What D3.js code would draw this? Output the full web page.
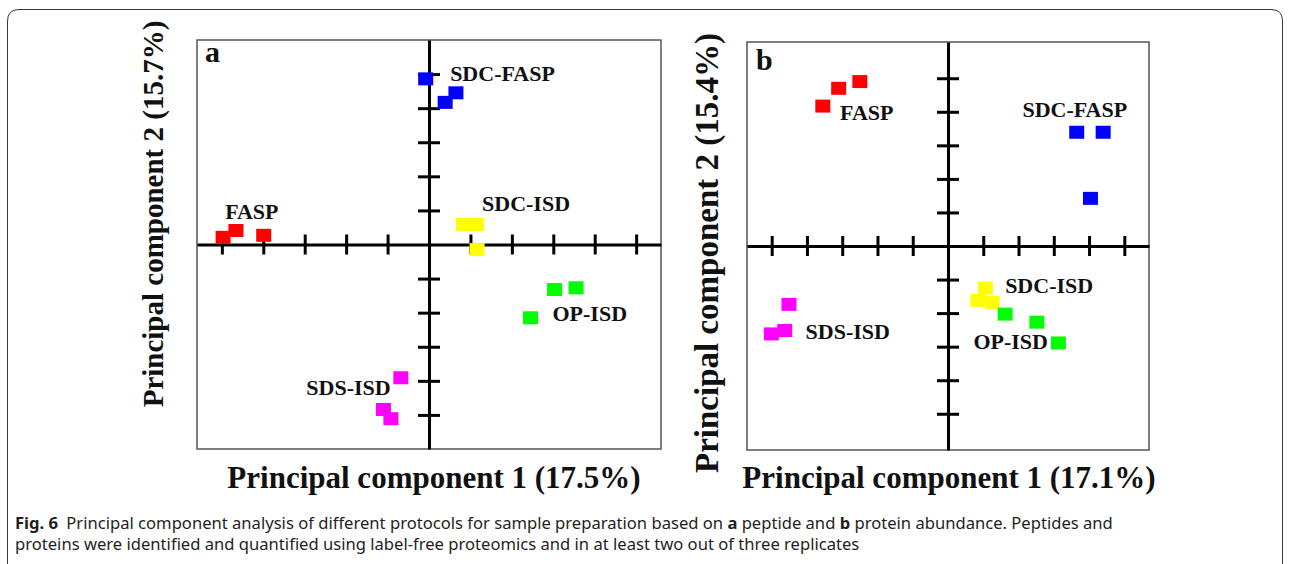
<!DOCTYPE html>
<html>
<head>
<meta charset="utf-8">
<script src="https://cdn.jsdelivr.net/npm/d3@7"></script>
<style>
  body { margin: 0; background: #fff; }
  svg { display: block; }
  .serif { font-family: "Liberation Serif", "Times New Roman", serif; font-weight: bold; fill: #111; }
  .caption { font-family: "Noto Sans", sans-serif; fill: #231f20; }
</style>
</head>
<body>
<svg id="chart" width="1290" height="564"></svg>
<script>
// groups shared by both panels
const groups = ['FASP', 'SDC-FASP', 'SDC-ISD', 'OP-ISD', 'SDS-ISD'];
const groupColors = ['#ff0000', '#0000ff', '#ffff00', '#00ff00', '#ff00ff'];
const axisTicks = [-5, -4, -3, -2, -1, 1, 2, 3, 4, 5];

// panel a: peptide abundance (three replicates per group)
const pc1A = [[-4.97, -4.66, -3.99], [-0.08, 0.39, 0.65], [0.83, 1.15, 1.16], [3.03, 3.55, 2.45], [-0.68, -1.10, -0.92]];
const pc2A = [[0.21, 0.41, 0.27], [4.86, 4.17, 4.45], [0.59, 0.59, -0.15], [-1.32, -1.27, -2.15], [-3.91, -4.84, -5.11]];
// where each group name sits (data units: left x, baseline y)
const labelPosA = [[-4.92, 0.75], [0.51, 4.79], [1.28, 0.98], [2.98, -2.25], [-2.96, -4.42]];

// panel b: protein abundance
const pc1B = [[-3.55, -3.10, -2.50], [3.65, 4.40, 4.04], [1.06, 0.85, 1.25], [1.62, 2.52, 3.13], [-4.51, -5.01, -4.63]];
const pc2B = [[4.17, 4.70, 4.90], [3.39, 3.39, 1.42], [-1.25, -1.62, -1.68], [-2.03, -2.27, -2.89], [-1.74, -2.62, -2.52]];
const labelPosB = [[-3.06, 3.77], [2.11, 3.85], [1.62, -1.41], [0.72, -3.07], [-4.04, -2.77]];

const svg = d3.select('#chart');

// outer figure frame (open at the bottom)
svg.append('path')
  .attr('d', 'M7.5,570 V21 Q7.5,9.5 19,9.5 H1271 Q1282.5,9.5 1282.5,21 V570')
  .attr('fill', 'none')
  .attr('stroke', '#3a3a3a')
  .attr('stroke-width', 1);

function drawPanel(p) {
  const x = d3.scaleLinear().domain(p.xDomain).range([p.left, p.right]);
  const y = d3.scaleLinear().domain(p.yDomain).range([p.bottom, p.top]);
  const g = svg.append('g');

  g.append('rect')
    .attr('x', p.left).attr('y', p.top)
    .attr('width', p.right - p.left).attr('height', p.bottom - p.top)
    .attr('fill', '#fff')
    .attr('stroke', '#555')
    .attr('stroke-width', 1.5);

  const xAxis = g.append('g')
    .attr('transform', `translate(0,${y(0)})`)
    .call(d3.axisBottom(x).tickValues(axisTicks).tickSize(10).tickSizeOuter(0).tickFormat(''));
  xAxis.selectAll('.tick line').attr('y1', -10).attr('y2', 10);

  const yAxis = g.append('g')
    .attr('transform', `translate(${x(0)},0)`)
    .call(d3.axisLeft(y).tickValues(axisTicks).tickSize(11).tickSizeOuter(0).tickFormat(''));
  yAxis.selectAll('.tick line').attr('x1', -11).attr('x2', 11);

  g.selectAll('.domain, .tick line').attr('stroke', '#000').attr('stroke-width', 3);

  const pts = [];
  groups.forEach((name, i) => {
    p.pc1[i].forEach((v, j) => pts.push({ group: i, pc1: v, pc2: p.pc2[i][j] }));
  });

  g.append('g')
    .selectAll('rect')
    .data(pts)
    .enter()
    .append('rect')
    .attr('x', (d) => x(d.pc1) - 7.5)
    .attr('y', (d) => y(d.pc2) - 6.5)
    .attr('width', 15)
    .attr('height', 13)
    .attr('fill', (d) => groupColors[d.group]);

  g.append('g')
    .selectAll('text')
    .data(groups)
    .enter()
    .append('text')
    .attr('class', 'serif')
    .attr('x', (d, i) => x(p.labelPos[i][0]))
    .attr('y', (d, i) => y(p.labelPos[i][1]))
    .attr('font-size', 22)
    .text((d) => d);

  g.append('text')
    .attr('class', 'serif')
    .attr('x', p.left + p.letterDx)
    .attr('y', p.top + p.letterDy)
    .attr('font-size', 30)
    .text(p.letter);

  g.append('text')
    .attr('class', 'serif')
    .attr('text-anchor', 'middle')
    .attr('x', (p.left + p.right) / 2 + p.xTitleDx)
    .attr('y', 488)
    .attr('font-size', p.xTitleSize)
    .text(p.xTitle);

  g.append('text')
    .attr('class', 'serif')
    .attr('text-anchor', 'middle')
    .attr('transform', `translate(${p.yTitleX},${p.yTitleY}) rotate(-90)`)
    .attr('font-size', p.yTitleSize)
    .text(p.yTitle);
}

drawPanel({
  left: 197, right: 661, top: 40, bottom: 449,
  xDomain: [-5.6, 5.6], yDomain: [-6, 6],
  pc1: pc1A, pc2: pc2A, labelPos: labelPosA,
  letter: 'a', letterDx: 8, letterDy: 22,
  xTitle: 'Principal component 1 (17.5%)', xTitleSize: 31, xTitleDx: 5,
  yTitle: 'Principal component 2 (15.7%)', yTitleSize: 29, yTitleX: 163, yTitleY: 214,
});

drawPanel({
  left: 747, right: 1149, top: 42, bottom: 450,
  xDomain: [-5.7, 5.7], yDomain: [-6.08, 6.08],
  pc1: pc1B, pc2: pc2B, labelPos: labelPosB,
  letter: 'b', letterDx: 9, letterDy: 28,
  xTitle: 'Principal component 1 (17.1%)', xTitleSize: 31, xTitleDx: 1,
  yTitle: 'Principal component 2 (15.4%)', yTitleSize: 33, yTitleX: 718, yTitleY: 253,
});

// caption
const cap1 = svg.append('text').attr('class', 'caption').attr('x', 15).attr('y', 529).attr('font-size', 16.6);
cap1.append('tspan').attr('font-weight', 'bold').text('Fig. 6');
cap1.append('tspan').text('\u2002Principal component analysis of different protocols for sample preparation based on ');
cap1.append('tspan').attr('font-weight', 'bold').text('a');
cap1.append('tspan').text(' peptide and ');
cap1.append('tspan').attr('font-weight', 'bold').text('b');
cap1.append('tspan').text(' protein abundance. Peptides and');

svg.append('text').attr('class', 'caption').attr('x', 15).attr('y', 550).attr('font-size', 16.6)
  .text('proteins were identified and quantified using label-free proteomics and in at least two out of three replicates');
</script>
</body>
</html>
